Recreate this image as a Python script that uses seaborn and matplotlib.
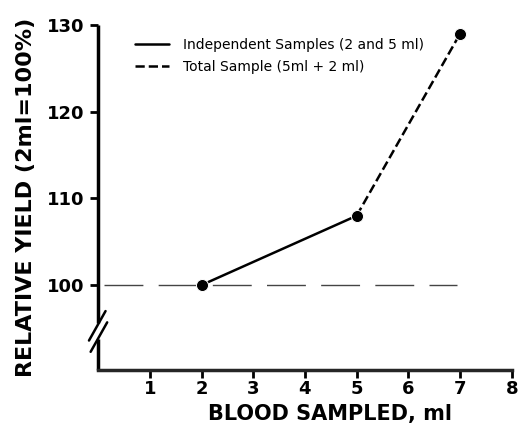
import matplotlib
matplotlib.use("Agg")
import matplotlib.pyplot as plt
import seaborn as sns
import pandas as pd

# values
indep_ml = [2, 5]
indep_yield = [100, 108]
total_ml = [5, 7]
total_yield = [108, 129]
point_ml = [2, 5, 7]
point_yield = [100, 108, 129]
ref_level = 100
x_ticks = [1, 2, 3, 4, 5, 6, 7, 8]
y_ticks = [100, 110, 120, 130]

sns.set_style("ticks")
plt.rcParams['font.family'] = ['DejaVu Sans']
plt.rcParams['text.color'] = 'black'
plt.rcParams['axes.labelcolor'] = 'black'
plt.rcParams['xtick.color'] = 'black'
plt.rcParams['ytick.color'] = 'black'

fig = plt.figure(figsize=(5.19, 4.41), dpi=100)
ax = fig.add_axes([0.189, 0.161, 0.797, 0.782])

indep = pd.DataFrame({'ml': indep_ml, 'y': indep_yield})
total = pd.DataFrame({'ml': total_ml, 'y': total_yield})
pts = pd.DataFrame({'ml': point_ml, 'y': point_yield})

# reference line at 100 %
ax.plot([0.12, 6.95], [ref_level, ref_level], color='#444444', lw=1.0,
        dashes=(28, 11))

sns.lineplot(data=indep, x='ml', y='y', ax=ax, color='black', lw=1.8,
             label='Independent Samples (2 and 5 ml)')
sns.lineplot(data=total, x='ml', y='y', ax=ax, color='black', lw=1.8,
             linestyle='--', label='Total Sample (5ml + 2 ml)')
sns.scatterplot(data=pts, x='ml', y='y', ax=ax, color='black', s=75,
                zorder=5, legend=False)

ax.set_xlim(0, 8)
ax.set_ylim(90.2, 130)
ax.set_xticks(x_ticks)
ax.set_yticks(y_ticks)
ax.tick_params(axis='both', labelsize=13, width=2, length=6, direction='out')
ax.tick_params(axis='x', pad=1)
for lab in ax.get_xticklabels() + ax.get_yticklabels():
    lab.set_fontweight('bold')

# left spine with a break
ax.spines['left'].set_visible(False)
ax.spines['top'].set_visible(False)
ax.spines['right'].set_visible(False)
ax.spines['bottom'].set_linewidth(2.5)
trans = ax.get_yaxis_transform()
ax.plot([0, 0], [95.6, 130], color='black', lw=2.5, transform=trans,
        clip_on=False, solid_capstyle='butt')
ax.plot([0, 0], [90.2, 93.8], color='black', lw=2.5, transform=trans,
        clip_on=False, solid_capstyle='butt')
ax.plot([-0.022, 0.018], [93.6, 97.0], color='black', lw=1.8,
        transform=trans, clip_on=False)
ax.plot([-0.018, 0.022], [92.3, 95.7], color='black', lw=1.8,
        transform=trans, clip_on=False)

ax.set_xlabel('BLOOD SAMPLED, ml', fontsize=15, fontweight='bold')
ax.xaxis.set_label_coords(0.56, -0.1)
ax.set_ylabel('RELATIVE YIELD (2ml=100%)', fontsize=16, fontweight='bold',
              labelpad=8)

ax.legend(loc='upper left', bbox_to_anchor=(0.06, 1.0), frameon=False,
          fontsize=10, handlelength=2.4, handletextpad=1.0,
          labelspacing=0.6)

fig.savefig('out.png', dpi=100)
